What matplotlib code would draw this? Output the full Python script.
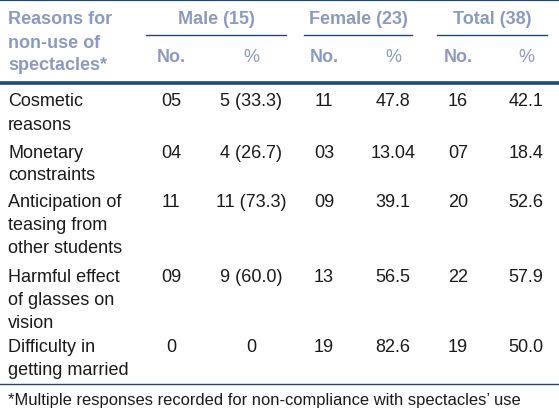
import matplotlib
matplotlib.use("Agg")
import matplotlib.pyplot as plt
from matplotlib.lines import Line2D

# ── Table content ─────────────────────────────────────────────────────────────
reasons = [
    ["Cosmetic", "reasons"],
    ["Monetary", "constraints"],
    ["Anticipation of", "teasing from", "other students"],
    ["Harmful effect", "of glasses on", "vision"],
    ["Difficulty in", "getting married"],
]
male_no    = ["05", "04", "11", "09", "0"]
male_pct   = ["5 (33.3)", "4 (26.7)", "11 (73.3)", "9 (60.0)", "0"]
female_no  = ["11", "03", "09", "13", "19"]
female_pct = ["47.8", "13.04", "39.1", "56.5", "82.6"]
total_no   = ["16", "07", "20", "22", "19"]
total_pct  = ["42.1", "18.4", "52.6", "57.9", "50.0"]

groups     = ["Male (15)", "Female (23)", "Total (38)"]
stub_head  = ["Reasons for", "non-use of", "spectacles*"]
footnote   = "*Multiple responses recorded for non-compliance with spectacles\u2019 use"

# ── Layout (pixels, y measured from top) ─────────────────────────────────────
W, H = 559, 410
HEAD_C = "#8b9ac0"
LINE_C = "#1d4a78"
TEXT_C = "#1a1a1a"
FS = 13.0
LINE_STEP = 23

col_x    = [171, 251, 324, 393, 458, 526]
group_x  = [(146, 286), (304, 412), (437, 547)]
row_y    = [102, 153, 203, 278, 348]

plt.rcParams["font.family"] = ["Liberation Sans", "DejaVu Sans"]
fig = plt.figure(figsize=(W / 100, H / 100), dpi=100)
fig.patch.set_facecolor("white")


def fx(x):
    return x / W


def fy(y):
    return 1 - y / H


def hline(y, x0, x1, lw):
    fig.add_artist(Line2D([fx(x0), fx(x1)], [fy(y), fy(y)], color=LINE_C,
                          linewidth=lw, transform=fig.transFigure))


def txt(x, y, s, ha="center", **kw):
    fig.text(fx(x), fy(y), s, ha=ha, va="center", **kw)


# header
hline(1.0, 0, W, 1.6)
for i, s in enumerate(stub_head):
    txt(8, 20 + i * LINE_STEP, s, ha="left", fontsize=FS, fontweight="bold",
        color=HEAD_C)
for g, (x0, x1) in zip(groups, group_x):
    txt((x0 + x1) / 2, 20, g, fontsize=FS, fontweight="bold", color=HEAD_C)
    hline(36, x0, x1, 1.0)
for k, x in enumerate(col_x):
    txt(x, 58, "No." if k % 2 == 0 else "%", fontsize=FS,
        fontweight="bold" if k % 2 == 0 else "normal", color=HEAD_C)
hline(83.5, 0, W, 2.6)

# body
cols = [male_no, male_pct, female_no, female_pct, total_no, total_pct]
for r, y in enumerate(row_y):
    for j, line in enumerate(reasons[r]):
        txt(8, y + j * LINE_STEP, line, ha="left", fontsize=FS, color=TEXT_C)
    for x, col in zip(col_x, cols):
        txt(x, y, col[r], fontsize=FS, color=TEXT_C)

hline(385, 0, W, 1.0)
txt(8, 401, footnote, ha="left", fontsize=11.85, color=TEXT_C)

fig.savefig("out.png", dpi=100, facecolor="white")
